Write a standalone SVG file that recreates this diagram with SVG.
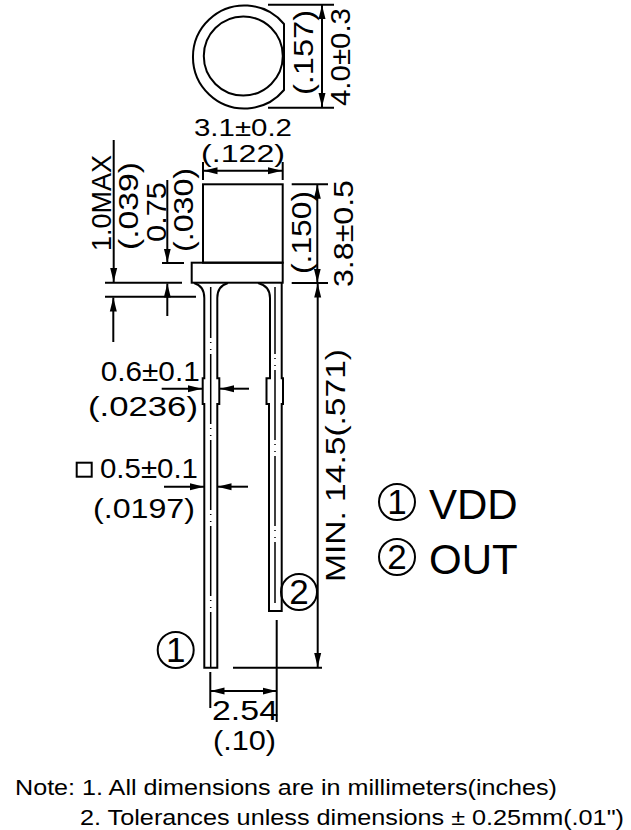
<svg xmlns="http://www.w3.org/2000/svg" width="631" height="830" viewBox="0 0 631 830">
<style>
.l{fill:none;stroke:#000;stroke-width:2}
.a{fill:none;stroke:#000;stroke-width:2;marker-end:url(#ah)}
.c{fill:none;stroke:#000;stroke-width:1.5;stroke-dasharray:70 4 1 6 1 4}
.t{font-family:"Liberation Sans",Arial,sans-serif;font-size:27px;fill:#000}
.s{font-size:23px}
.q{font-family:"Liberation Sans",Arial,sans-serif;font-size:35px;fill:#000;text-anchor:middle}
.n{font-family:"Liberation Sans",Arial,sans-serif;font-size:21.5px;fill:#000}
.b{font-family:"Liberation Sans",Arial,sans-serif;font-size:42px;fill:#000}
</style>
<defs>
<marker id="ah" markerUnits="userSpaceOnUse" markerWidth="15" markerHeight="8" refX="14" refY="4" orient="auto"><path d="M0 0.500L14 4L0 7.500Z" fill="#000"/></marker>
</defs>
<rect width="631" height="830" fill="#fff"/>
<g id="top-view">
<path class="l" d="M284 24A51.500 51.500 0 1 0 284 90Z"/>
<circle class="l" cx="243.300" cy="56" r="39.500"/>
</g>
<g id="body">
<rect class="l" x="203" y="184.300" width="79.700" height="78.400"/>
<rect class="l" x="191.700" y="262.700" width="91" height="20"/>
</g>
<g id="lead-1">
<path class="l" d="M194 283Q204.300 286 204.300 298V378.300H202.700V404H204.300V667.700H217.300V404H219.300V378.300H217.300V298Q217.300 286 228 283"/>
<path class="c" d="M210.700 287V667" stroke-dashoffset="19"/>
<circle class="l" cx="175.700" cy="650" r="18"/>
<text class="q" x="175.700" y="662">1</text>
</g>
<g id="lead-2">
<path class="l" d="M258 283Q270 286 270 298V378.300H266.500V404H269V611H281.700V404H283V378.300H281.700V283"/>
<path class="c" d="M275 287V603" stroke-dashoffset="3"/>
<circle class="l" cx="299" cy="592" r="18"/>
<text class="q" x="299" y="604">2</text>
</g>
<g id="connectors">
<path class="l" d="M268 4.700H334M268 107.700H334M203 162V180M282.700 162V180M291.700 184.300H328M291.700 283H328M162 263H184M105 282.700H182M105 296.700H196M233 667.700H322M210.300 672V708M276.700 620V722"/>
<path class="a" d="M322 56V5"/><path class="a" d="M322 56V107"/>
<path class="a" d="M243 170.700H203.500"/><path class="a" d="M243 170.700H282"/>
<path class="a" d="M317.300 230V184.800"/><path class="a" d="M317.300 230V282.500"/>
<path class="a" d="M113.700 140V282"/><path class="a" d="M167.300 180V262.500"/>
<path class="a" d="M113.300 342V297.500"/><path class="a" d="M167.300 316V283.500"/>
<path class="a" d="M161.700 388.700H202"/><path class="a" d="M249 388.700H220"/>
<path class="a" d="M164 486.700H204"/><path class="a" d="M248 486.700H217.500"/>
<path class="a" d="M317.700 480V283.500"/><path class="a" d="M317.700 480V667"/>
<path class="a" d="M243 691H210.500"/><path class="a" d="M243 691H276.500"/>
</g>
<g id="dimension-labels">
<text class="t s" x="194" y="135.500" textLength="98" lengthAdjust="spacingAndGlyphs">3.1±0.2</text>
<text class="t s" x="201" y="162" textLength="84" lengthAdjust="spacingAndGlyphs">(.122)</text>
<text class="t" transform="translate(313 95) rotate(-90)" textLength="85" lengthAdjust="spacingAndGlyphs">(.157)</text>
<text class="t" transform="translate(350 106) rotate(-90)" textLength="98" lengthAdjust="spacingAndGlyphs">4.0±0.3</text>
<text class="t" transform="translate(311 274) rotate(-90)" textLength="83" lengthAdjust="spacingAndGlyphs">(.150)</text>
<text class="t" transform="translate(352.500 287) rotate(-90)" textLength="107" lengthAdjust="spacingAndGlyphs">3.8±0.5</text>
<text class="t" transform="translate(110.700 251) rotate(-90)" textLength="96" lengthAdjust="spacingAndGlyphs">1.0MAX</text>
<text class="t" transform="translate(138 250) rotate(-90)" textLength="88" lengthAdjust="spacingAndGlyphs">(.039)</text>
<text class="t" transform="translate(166 242) rotate(-90)" textLength="60" lengthAdjust="spacingAndGlyphs">0.75</text>
<text class="t" transform="translate(193 252) rotate(-90)" textLength="84" lengthAdjust="spacingAndGlyphs">(.030)</text>
<text class="t" x="100.700" y="381" textLength="99" lengthAdjust="spacingAndGlyphs">0.6±0.1</text>
<text class="t" x="88" y="416" textLength="110" lengthAdjust="spacingAndGlyphs">(.0236)</text>
<rect class="l" x="76.700" y="462.700" width="15" height="14"/>
<text class="t" x="100" y="478" textLength="98" lengthAdjust="spacingAndGlyphs">0.5±0.1</text>
<text class="t" x="93" y="518" textLength="102" lengthAdjust="spacingAndGlyphs">(.0197)</text>
<text class="t" transform="translate(345 582) rotate(-90)" textLength="233" lengthAdjust="spacingAndGlyphs">MIN. 14.5(.571)</text>
<text class="t" x="212" y="720" textLength="66" lengthAdjust="spacingAndGlyphs">2.54</text>
<text class="t" x="213" y="750" textLength="63" lengthAdjust="spacingAndGlyphs">(.10)</text>
</g>
<g id="legend">
<circle class="l" cx="397" cy="502" r="18"/>
<text class="q" x="397" y="514">1</text>
<circle class="l" cx="397" cy="557" r="18"/>
<text class="q" x="397" y="569">2</text>
<text class="b" x="429" y="519">VDD</text>
<text class="b" x="429" y="574">OUT</text>
</g>
<g id="notes">
<text class="n" x="15" y="795" textLength="542" lengthAdjust="spacingAndGlyphs">Note: 1. All dimensions are in millimeters(inches)</text>
<text class="n" x="80" y="825" textLength="544" lengthAdjust="spacingAndGlyphs">2. Tolerances unless dimensions ± 0.25mm(.01")</text>
</g>
</svg>
